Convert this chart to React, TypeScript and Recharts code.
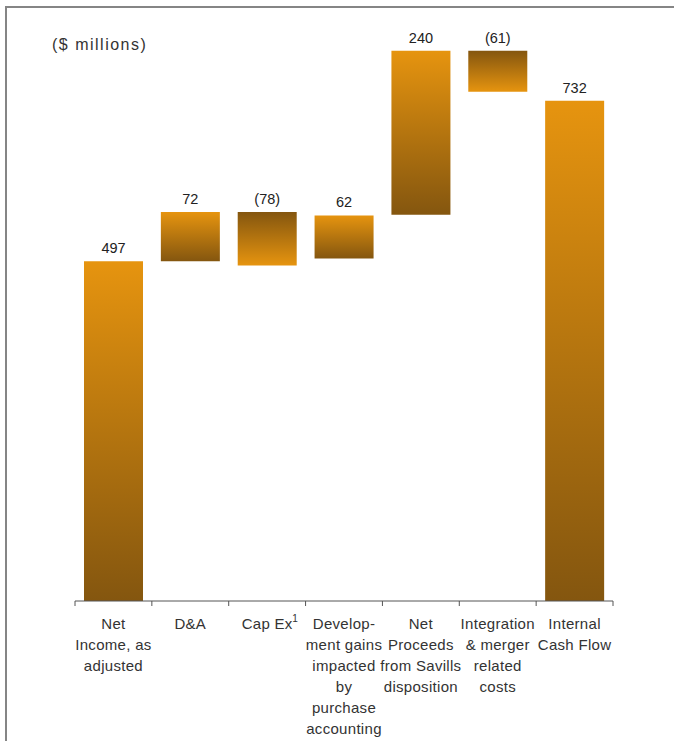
import React from "react";
import { BarChart, Bar, XAxis, YAxis, Cell, LabelList } from "recharts";

const CATEGORIES = [
  "Net Income, as adjusted",
  "D&A",
  "Cap Ex",
  "Development gains impacted by purchase accounting",
  "Net Proceeds from Savills disposition",
  "Integration & merger related costs",
  "Internal Cash Flow",
];
const TICK_LINES = [
  ["Net", "Income, as", "adjusted"],
  ["D&A"],
  ["Cap Ex"],
  ["Develop-", "ment gains", "impacted", "by", "purchase", "accounting"],
  ["Net", "Proceeds", "from Savills", "disposition"],
  ["Integration", "& merger", "related", "costs"],
  ["Internal", "Cash Flow"],
];
const TICK_NOTES = ["", "", "1", "", "", "", ""];
const VALUE_LABELS = ["497", "72", "(78)", "62", "240", "(61)", "732"];
const BAR_LOW = [0, 497, 491, 501, 565, 745, 0];
const BAR_HIGH = [497, 569, 569, 564, 805, 805, 732];
const DIRECTION = ["up", "up", "down", "up", "up", "down", "up"];

const data = CATEGORIES.map((c, i) => ({
  name: c,
  range: [BAR_LOW[i], BAR_HIGH[i]],
  dir: DIRECTION[i],
}));

const FONT = '"Liberation Sans", Arial, sans-serif';
const W = 667;
const H = 733;
const M = { top: 12, right: 61, bottom: 0, left: 68 };
const HALF_BAND = (W - M.left - M.right) / CATEGORIES.length / 2;

function Tick(props: any) {
  const { x, y, payload } = props;
  const i = CATEGORIES.indexOf(payload.value);
  const lines = TICK_LINES[i] || [];
  const note = TICK_NOTES[i];
  return (
    <g>
      <line x1={x - HALF_BAND} x2={x - HALF_BAND} y1={y} y2={y + 5} stroke="#555" strokeWidth={1} />
      {i === CATEGORIES.length - 1 && (
        <line x1={x + HALF_BAND} x2={x + HALF_BAND} y1={y} y2={y + 5} stroke="#555" strokeWidth={1} />
      )}
      <text x={x} y={y + 28} textAnchor="middle" fontSize={15} fill="#333" fontFamily={FONT} letterSpacing={0.3}>
        {lines.map((l, k) => (
          <tspan key={k} x={x} dy={k === 0 ? 0 : 21}>
            {l}
          </tspan>
        ))}
      </text>
      {note && (
        <text x={x + 25} y={y + 21} fontSize={10} fill="#333" fontFamily={FONT}>
          {note}
        </text>
      )}
    </g>
  );
}

function ValueLabel(props: any) {
  const { x, y, width, index } = props;
  return (
    <text x={x + width / 2} y={y - 8} textAnchor="middle" fontSize={14.5} fill="#222" fontFamily={FONT}>
      {VALUE_LABELS[index]}
    </text>
  );
}

export default function App() {
  return (
    <div
      style={{
        position: "absolute",
        left: 5,
        top: 6,
        width: 669,
        height: 735,
        borderTop: "2px solid #858585",
        borderLeft: "2px solid #858585",
        boxSizing: "border-box",
        background: "#fff",
        fontFamily: FONT,
      }}
    >
      <div
        style={{
          position: "absolute",
          left: 45,
          top: 28,
          fontSize: 16,
          letterSpacing: 1.5,
          color: "#333",
          whiteSpace: "nowrap",
        }}
      >
        ($ millions)
      </div>
      <BarChart width={W} height={H} data={data} margin={M} barSize={59}>
        <defs>
          <linearGradient id="gUp" x1="0" y1="0" x2="0" y2="1">
            <stop offset="0%" stopColor="#E6940F" />
            <stop offset="100%" stopColor="#84560F" />
          </linearGradient>
          <linearGradient id="gDown" x1="0" y1="0" x2="0" y2="1">
            <stop offset="0%" stopColor="#84560F" />
            <stop offset="100%" stopColor="#E6940F" />
          </linearGradient>
        </defs>
        <XAxis
          dataKey="name"
          interval={0}
          tickLine={false}
          tickSize={0}
          tickMargin={0}
          height={140}
          axisLine={{ stroke: "#555", strokeWidth: 1 }}
          tick={<Tick />}
        />
        <YAxis hide domain={[0, 850]} />
        <Bar dataKey="range" isAnimationActive={false}>
          {data.map((d, i) => (
            <Cell key={i} fill={d.dir === "up" ? "url(#gUp)" : "url(#gDown)"} />
          ))}
          <LabelList dataKey="range" content={<ValueLabel />} />
        </Bar>
      </BarChart>
    </div>
  );
}
